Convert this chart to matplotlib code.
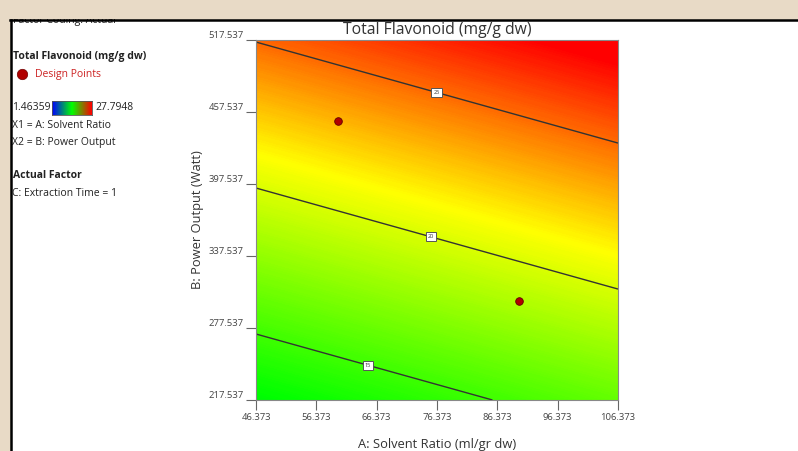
import numpy as np
import matplotlib
matplotlib.use("Agg")
import matplotlib.pyplot as plt
from matplotlib.colors import LinearSegmentedColormap, Normalize
from matplotlib.patches import Rectangle

plt.rcParams['font.family'] = ['Open Sans', 'DejaVu Sans']

# response surface (corner values of the plane)
solvent = [46.373, 106.373]
power = [217.537, 517.537]
flavonoid = [[12.74, 16.20],
             [25.07, 28.53]]
contour_levels = [15, 20, 25]
label_pos = [(65.1, 249.2), (75.6, 356.7), (76.4, 476.0)]

# design points
pts_x = [60.0, 90.0]
pts_y = [450.0, 300.0]

zmin, zmax = 1.46359, 27.7948
xticks = [46.373, 56.373, 66.373, 76.373, 86.373, 96.373, 106.373]
yticks = [217.537, 277.537, 337.537, 397.537, 457.537, 517.537]

cmap = LinearSegmentedColormap.from_list(
    "de", [(0, "#0000ff"), (0.44, "#00ff00"), (0.75, "#ffff00"), (1, "#ff0000")])
norm = Normalize(zmin, zmax)

fig = plt.figure(figsize=(7.98, 4.51), dpi=100, facecolor="#e8dac6")
# white panel with black border (screenshot frame)
fig.patches.append(Rectangle((11/798, 0), 1, 1 - 20/451, transform=fig.transFigure,
                             facecolor="white", edgecolor="none", zorder=-5))
fig.add_artist(plt.Line2D([10/798, 1], [1 - 19.5/451]*2, color="black", lw=1.8, zorder=5))
fig.add_artist(plt.Line2D([10.5/798]*2, [0, 1 - 19.5/451], color="black", lw=1.8, zorder=5))

ax = fig.add_axes([256/798, 1 - 400/451, 362/798, 360/451])
X, Y = np.meshgrid(solvent, power)
Z = np.array(flavonoid)
ax.contourf(X, Y, Z, levels=np.linspace(Z.min(), Z.max(), 200), cmap=cmap, norm=norm)
cs = ax.contour(X, Y, Z, levels=contour_levels, colors="#333333", linewidths=1.0)
lbls = ax.clabel(cs, fmt="%d", fontsize=4, inline=False, manual=label_pos)
for t in lbls:
    t.set_rotation(0)
    t.set_color("#333333")
    t.set_bbox(dict(boxstyle="square,pad=0.35", facecolor="white", edgecolor="#555555", lw=0.7))

ax.scatter(pts_x, pts_y, s=30, color="#b00000", edgecolor="#600000", lw=0.6, zorder=4)

ax.set_xlim(solvent)
ax.set_ylim(power)
ax.set_xticks(xticks)
ax.set_yticks(yticks)
ax.set_xticklabels([f"{v:.3f}" for v in xticks])
ax.set_yticklabels([f"{v:.3f}" for v in yticks])
ax.tick_params(axis="both", labelsize=6.8, colors="#666666", labelcolor="#444444",
               length=7, width=0.8, direction="out", pad=2)
for t in ax.get_yticklabels():
    t.set_va("bottom")
for s in ax.spines.values():
    s.set_color("#888888")
    s.set_linewidth(0.8)

ax.set_title("Total Flavonoid (mg/g dw)", fontsize=11.3, color="#333333", pad=4)
ax.set_xlabel("A: Solvent Ratio (ml/gr dw)", fontsize=9.3, color="#333333", labelpad=12)
ax.set_ylabel("B: Power Output (Watt)", fontsize=9.3, color="#333333", labelpad=3)

# left legend panel
def ftxt(x, y, s, color="#222222", **kw):
    fig.text(x/798, 1 - y/451, s, va="center", ha="left", fontsize=7.5, color=color, **kw)

ftxt(13, 21, "Factor Coding: Actual")
fig.patches.append(Rectangle((0, 1 - 19/451), 1, 19/451, transform=fig.transFigure,
                             facecolor="#e8dac6", edgecolor="none", zorder=4))
ftxt(13, 57, "Total Flavonoid (mg/g dw)", fontweight="bold")
fig.add_artist(plt.Line2D([22/798], [1 - 74/451], marker="o", ms=7.5, color="#b00000",
                          mec="#700000", mew=0.5, ls="none"))
ftxt(35, 74, "Design Points", color="#cc2222")
ftxt(12, 108, "1.46359")
cax = fig.add_axes([52/798, 1 - 115/451, 40/798, 14/451])
cax.imshow(np.linspace(0, 1, 100)[None, :], aspect="auto", cmap=LinearSegmentedColormap.from_list(
    "bar", ["#0000ff", "#00ff00", "#ff0000"]))
cax.set_xticks([])
cax.set_yticks([])
for s in cax.spines.values():
    s.set_color("#555555")
    s.set_linewidth(0.6)
ftxt(95, 108, "27.7948")
ftxt(12, 125, "X1 = A: Solvent Ratio")
ftxt(12, 142, "X2 = B: Power Output")
ftxt(13, 176, "Actual Factor", fontweight="bold")
ftxt(12, 193, "C: Extraction Time = 1")

fig.savefig("out.png", dpi=100)
